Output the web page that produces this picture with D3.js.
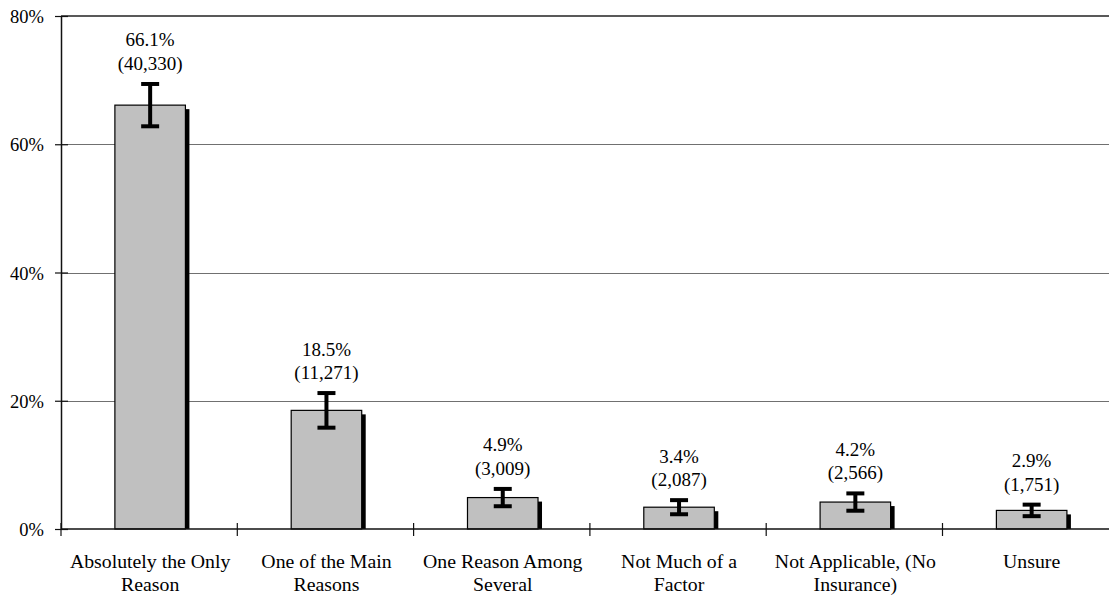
<!DOCTYPE html>
<html>
<head>
<meta charset="utf-8">
<script src="https://cdn.jsdelivr.net/npm/d3@7"></script>
<style>
  html, body { margin: 0; padding: 0; background: #fff; overflow: hidden; }
  svg { display: block; font-family: "Liberation Serif", "Times New Roman", serif; }
</style>
</head>
<body>
<svg id="chart" width="1109" height="595"></svg>
<script>
// ---- data ----
const categories = [
  "Absolutely the Only Reason",
  "One of the Main Reasons",
  "One Reason Among Several",
  "Not Much of a Factor",
  "Not Applicable, (No Insurance)",
  "Unsure"
];
const categoryLines = [
  ["Absolutely the Only", "Reason"],
  ["One of the Main", "Reasons"],
  ["One Reason Among", "Several"],
  ["Not Much of a", "Factor"],
  ["Not Applicable, (No", "Insurance)"],
  ["Unsure"]
];
const percents = [66.1, 18.5, 4.9, 3.4, 4.2, 2.9];
const counts = ["40,330", "11,271", "3,009", "2,087", "2,566", "1,751"];
const errors = [3.3, 2.7, 1.35, 1.1, 1.35, 0.9];
const yTicks = [0, 20, 40, 60, 80];
const yTickLabels = ["0%", "20%", "40%", "60%", "80%"];

(function () {
const FONT = "Liberation Serif, Times New Roman, serif";
// ---- layout ----
const svg = d3.select("#chart");
const mLeft = 61, mTop = 16, mBottom = 529;
const step = 176.3;
const mRight = mLeft + step * categories.length;

const x = d3.scaleBand().domain(categories).range([mLeft, mRight]).padding(0);
const y = d3.scaleLinear().domain([0, 80]).range([mBottom, mTop]);
const barW = x.step() * 0.4;
const cx = c => x(c) + x.bandwidth() / 2 + 1;

// gridlines
svg.append("g").selectAll("line").data(yTicks.filter(t => t > 0 && t < 80)).join("line")
  .attr("x1", mLeft).attr("x2", mRight)
  .attr("y1", d => Math.round(y(d)) + 0.5).attr("y2", d => Math.round(y(d)) + 0.5)
  .attr("stroke", "#707070").attr("stroke-width", 1);
// top border (80%)
svg.append("line")
  .attr("x1", mLeft).attr("x2", mRight).attr("y1", y(80)).attr("y2", y(80))
  .attr("stroke", "#222").attr("stroke-width", 1.5);

const data = categories.map((c, i) => ({c, v: percents[i], n: counts[i], e: errors[i], lines: categoryLines[i]}));
// shadows
svg.append("g").selectAll("rect").data(data).join("rect")
  .attr("x", d => cx(d.c) - barW / 2 + 4)
  .attr("y", d => y(d.v) + 4)
  .attr("width", barW)
  .attr("height", d => mBottom - y(d.v) - 4)
  .attr("fill", "#000");
// bars
svg.append("g").selectAll("rect").data(data).join("rect")
  .attr("x", d => cx(d.c) - barW / 2)
  .attr("y", d => y(d.v))
  .attr("width", barW)
  .attr("height", d => mBottom - y(d.v))
  .attr("fill", "#c0c0c0").attr("stroke", "#000").attr("stroke-width", 1.2);

// axes
const yAxis = d3.axisLeft(y).tickValues(yTicks).tickFormat((d, i) => yTickLabels[i]).tickSizeInner(6).tickSizeOuter(0).tickPadding(11);
const gy = svg.append("g").attr("transform", `translate(${mLeft},0)`).call(yAxis)
  .attr("font-family", FONT);
gy.select(".domain").attr("stroke", "#111").attr("stroke-width", 1.5);
gy.selectAll(".tick line").attr("x2", 7).attr("x1", -6).attr("stroke", "#111").attr("stroke-width", 1.2);
gy.selectAll(".tick text").attr("font-size", 18.5).attr("fill", "#000").attr("x", -17).attr("dy", "0.36em");

svg.append("line").attr("x1", mLeft).attr("x2", mRight).attr("y1", mBottom).attr("y2", mBottom)
  .attr("stroke", "#111").attr("stroke-width", 1.5);
// category boundary ticks
const bounds = d3.range(0, categories.length + 1).map(i => mLeft + i * x.step());
svg.append("g").selectAll("line").data(bounds).join("line")
  .attr("x1", d => d).attr("x2", d => d)
  .attr("y1", mBottom - 6).attr("y2", mBottom + 7)
  .attr("stroke", "#111").attr("stroke-width", 1.2);

// x labels
const xl = svg.append("g").attr("font-family", FONT).selectAll("text").data(data).join("text")
  .attr("text-anchor", "middle").attr("font-size", 19.8).attr("fill", "#000")
  .attr("transform", d => `translate(${x(d.c) + x.bandwidth() / 2 + 1},568)`);
xl.selectAll("tspan").data(d => d.lines).join("tspan")
  .attr("x", 0).attr("dy", (d, i) => i === 0 ? 0 : 23).text(d => d);

// error bars
const eg = svg.append("g").selectAll("g").data(data).join("g");
eg.append("line")
  .attr("x1", d => cx(d.c)).attr("x2", d => cx(d.c))
  .attr("y1", d => y(d.v + d.e)).attr("y2", d => y(d.v - d.e))
  .attr("stroke", "#000").attr("stroke-width", 4);
eg.append("line")
  .attr("x1", d => cx(d.c) - 9).attr("x2", d => cx(d.c) + 9)
  .attr("y1", d => y(d.v + d.e)).attr("y2", d => y(d.v + d.e))
  .attr("stroke", "#000").attr("stroke-width", 4);
eg.append("line")
  .attr("x1", d => cx(d.c) - 9).attr("x2", d => cx(d.c) + 9)
  .attr("y1", d => y(d.v - d.e)).attr("y2", d => y(d.v - d.e))
  .attr("stroke", "#000").attr("stroke-width", 4);

// value labels
const vl = svg.append("g").attr("font-family", FONT).selectAll("text").data(data).join("text")
  .attr("text-anchor", "middle").attr("font-size", 19).attr("fill", "#000")
  .attr("transform", d => `translate(${cx(d.c)},${y(d.v + d.e) - 14})`);
vl.append("tspan").attr("x", 0).attr("dy", -23.5).text(d => d.v.toFixed(1) + "%");
vl.append("tspan").attr("x", 0).attr("dy", 23.5).text(d => "(" + d.n + ")");
})();
</script>
</body>
</html>
